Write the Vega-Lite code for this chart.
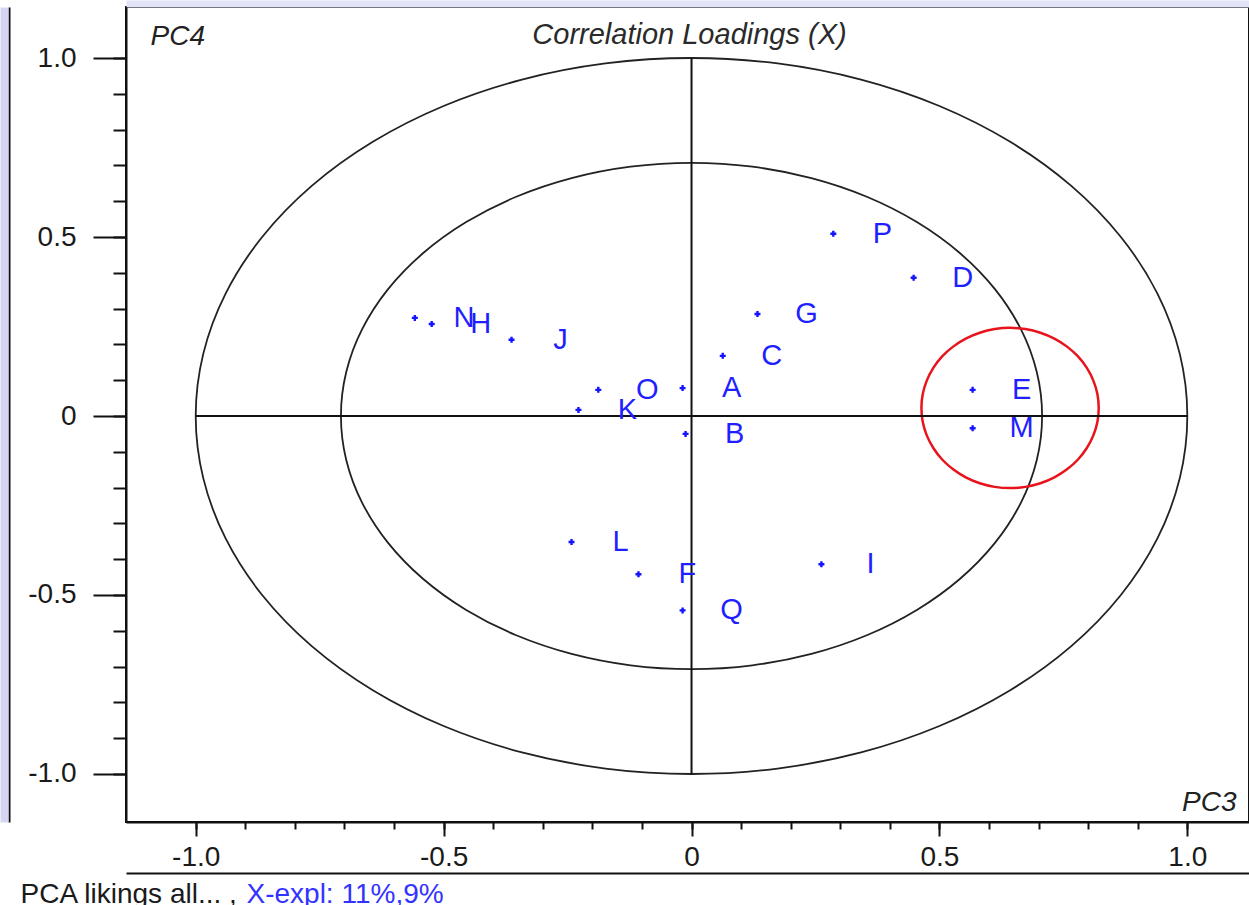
{
  "$schema": "https://vega.github.io/schema/vega-lite/v6.json",
  "width": 1123,
  "height": 815,
  "autosize": {"type": "none"},
  "padding": {"left": 126, "top": 7, "right": 0, "bottom": 83},
  "background": "white",
  "config": {
    "view": {"stroke": "#111111", "strokeWidth": 2},
    "axis": {
      "grid": false,
      "labelFont": "Liberation Sans",
      "titleFont": "Liberation Sans",
      "labelFontSize": 28,
      "labelColor": "#1a1a1a",
      "tickColor": "#111111",
      "domainColor": "#111111",
      "titleFontWeight": "normal",
      "titleColor": "#222222",
      "titleFontSize": 28
    }
  },
  "title": {
    "text": "Correlation Loadings (X)",
    "font": "Liberation Sans",
    "fontSize": 29,
    "fontStyle": "italic",
    "fontWeight": "normal",
    "color": "#2a2a2a",
    "anchor": "middle",
    "frame": "group",
    "baseline": "alphabetic",
    "offset": 0,
    "dy": 69,
    "dx": 2
  },
  "datasets": {
    "rings": [
      {"ring": "outer", "a": 0, "x": 1, "y": 0},
      {"ring": "outer", "a": 10, "x": 0.9848, "y": 0.1736},
      {"ring": "outer", "a": 20, "x": 0.9397, "y": 0.342},
      {"ring": "outer", "a": 30, "x": 0.866, "y": 0.5},
      {"ring": "outer", "a": 40, "x": 0.766, "y": 0.6428},
      {"ring": "outer", "a": 50, "x": 0.6428, "y": 0.766},
      {"ring": "outer", "a": 60, "x": 0.5, "y": 0.866},
      {"ring": "outer", "a": 70, "x": 0.342, "y": 0.9397},
      {"ring": "outer", "a": 80, "x": 0.1736, "y": 0.9848},
      {"ring": "outer", "a": 90, "x": 0, "y": 1},
      {"ring": "outer", "a": 100, "x": -0.1736, "y": 0.9848},
      {"ring": "outer", "a": 110, "x": -0.342, "y": 0.9397},
      {"ring": "outer", "a": 120, "x": -0.5, "y": 0.866},
      {"ring": "outer", "a": 130, "x": -0.6428, "y": 0.766},
      {"ring": "outer", "a": 140, "x": -0.766, "y": 0.6428},
      {"ring": "outer", "a": 150, "x": -0.866, "y": 0.5},
      {"ring": "outer", "a": 160, "x": -0.9397, "y": 0.342},
      {"ring": "outer", "a": 170, "x": -0.9848, "y": 0.1736},
      {"ring": "outer", "a": 180, "x": -1, "y": 0},
      {"ring": "outer", "a": 190, "x": -0.9848, "y": -0.1736},
      {"ring": "outer", "a": 200, "x": -0.9397, "y": -0.342},
      {"ring": "outer", "a": 210, "x": -0.866, "y": -0.5},
      {"ring": "outer", "a": 220, "x": -0.766, "y": -0.6428},
      {"ring": "outer", "a": 230, "x": -0.6428, "y": -0.766},
      {"ring": "outer", "a": 240, "x": -0.5, "y": -0.866},
      {"ring": "outer", "a": 250, "x": -0.342, "y": -0.9397},
      {"ring": "outer", "a": 260, "x": -0.1736, "y": -0.9848},
      {"ring": "outer", "a": 270, "x": 0, "y": -1},
      {"ring": "outer", "a": 280, "x": 0.1736, "y": -0.9848},
      {"ring": "outer", "a": 290, "x": 0.342, "y": -0.9397},
      {"ring": "outer", "a": 300, "x": 0.5, "y": -0.866},
      {"ring": "outer", "a": 310, "x": 0.6428, "y": -0.766},
      {"ring": "outer", "a": 320, "x": 0.766, "y": -0.6428},
      {"ring": "outer", "a": 330, "x": 0.866, "y": -0.5},
      {"ring": "outer", "a": 340, "x": 0.9397, "y": -0.342},
      {"ring": "outer", "a": 350, "x": 0.9848, "y": -0.1736},
      {"ring": "inner", "a": 0, "x": 0.7071, "y": 0},
      {"ring": "inner", "a": 10, "x": 0.6964, "y": 0.1228},
      {"ring": "inner", "a": 20, "x": 0.6645, "y": 0.2418},
      {"ring": "inner", "a": 30, "x": 0.6124, "y": 0.3536},
      {"ring": "inner", "a": 40, "x": 0.5417, "y": 0.4545},
      {"ring": "inner", "a": 50, "x": 0.4545, "y": 0.5417},
      {"ring": "inner", "a": 60, "x": 0.3536, "y": 0.6124},
      {"ring": "inner", "a": 70, "x": 0.2418, "y": 0.6645},
      {"ring": "inner", "a": 80, "x": 0.1228, "y": 0.6964},
      {"ring": "inner", "a": 90, "x": 0, "y": 0.7071},
      {"ring": "inner", "a": 100, "x": -0.1228, "y": 0.6964},
      {"ring": "inner", "a": 110, "x": -0.2418, "y": 0.6645},
      {"ring": "inner", "a": 120, "x": -0.3536, "y": 0.6124},
      {"ring": "inner", "a": 130, "x": -0.4545, "y": 0.5417},
      {"ring": "inner", "a": 140, "x": -0.5417, "y": 0.4545},
      {"ring": "inner", "a": 150, "x": -0.6124, "y": 0.3536},
      {"ring": "inner", "a": 160, "x": -0.6645, "y": 0.2418},
      {"ring": "inner", "a": 170, "x": -0.6964, "y": 0.1228},
      {"ring": "inner", "a": 180, "x": -0.7071, "y": 0},
      {"ring": "inner", "a": 190, "x": -0.6964, "y": -0.1228},
      {"ring": "inner", "a": 200, "x": -0.6645, "y": -0.2418},
      {"ring": "inner", "a": 210, "x": -0.6124, "y": -0.3536},
      {"ring": "inner", "a": 220, "x": -0.5417, "y": -0.4545},
      {"ring": "inner", "a": 230, "x": -0.4545, "y": -0.5417},
      {"ring": "inner", "a": 240, "x": -0.3536, "y": -0.6124},
      {"ring": "inner", "a": 250, "x": -0.2418, "y": -0.6645},
      {"ring": "inner", "a": 260, "x": -0.1228, "y": -0.6964},
      {"ring": "inner", "a": 270, "x": 0, "y": -0.7071},
      {"ring": "inner", "a": 280, "x": 0.1228, "y": -0.6964},
      {"ring": "inner", "a": 290, "x": 0.2418, "y": -0.6645},
      {"ring": "inner", "a": 300, "x": 0.3536, "y": -0.6124},
      {"ring": "inner", "a": 310, "x": 0.4545, "y": -0.5417},
      {"ring": "inner", "a": 320, "x": 0.5417, "y": -0.4545},
      {"ring": "inner", "a": 330, "x": 0.6124, "y": -0.3536},
      {"ring": "inner", "a": 340, "x": 0.6645, "y": -0.2418},
      {"ring": "inner", "a": 350, "x": 0.6964, "y": -0.1228}
    ],
    "highlight": [
      {"a": 0, "x": 0.8213, "y": 0.0224},
      {"a": 10, "x": 0.8186, "y": 0.0613},
      {"a": 20, "x": 0.8105, "y": 0.0989},
      {"a": 30, "x": 0.7973, "y": 0.1343},
      {"a": 40, "x": 0.7795, "y": 0.1663},
      {"a": 50, "x": 0.7574, "y": 0.1938},
      {"a": 60, "x": 0.7319, "y": 0.2162},
      {"a": 70, "x": 0.7036, "y": 0.2327},
      {"a": 80, "x": 0.6735, "y": 0.2428},
      {"a": 90, "x": 0.6425, "y": 0.2462},
      {"a": 100, "x": 0.6115, "y": 0.2428},
      {"a": 110, "x": 0.5814, "y": 0.2327},
      {"a": 120, "x": 0.5531, "y": 0.2162},
      {"a": 130, "x": 0.5276, "y": 0.1938},
      {"a": 140, "x": 0.5055, "y": 0.1663},
      {"a": 150, "x": 0.4877, "y": 0.1343},
      {"a": 160, "x": 0.4745, "y": 0.0989},
      {"a": 170, "x": 0.4664, "y": 0.0613},
      {"a": 180, "x": 0.4637, "y": 0.0224},
      {"a": 190, "x": 0.4664, "y": -0.0165},
      {"a": 200, "x": 0.4745, "y": -0.0541},
      {"a": 210, "x": 0.4877, "y": -0.0895},
      {"a": 220, "x": 0.5055, "y": -0.1215},
      {"a": 230, "x": 0.5276, "y": -0.149},
      {"a": 240, "x": 0.5531, "y": -0.1714},
      {"a": 250, "x": 0.5814, "y": -0.1879},
      {"a": 260, "x": 0.6115, "y": -0.198},
      {"a": 270, "x": 0.6425, "y": -0.2014},
      {"a": 280, "x": 0.6735, "y": -0.198},
      {"a": 290, "x": 0.7036, "y": -0.1879},
      {"a": 300, "x": 0.7319, "y": -0.1714},
      {"a": 310, "x": 0.7574, "y": -0.149},
      {"a": 320, "x": 0.7795, "y": -0.1215},
      {"a": 330, "x": 0.7973, "y": -0.0895},
      {"a": 340, "x": 0.8105, "y": -0.0541},
      {"a": 350, "x": 0.8186, "y": -0.0165}
    ],
    "cross": [
      {"x": -1, "x2": 1, "y": 0, "y2": 0},
      {"x": 0, "x2": 0, "y": -1, "y2": 1}
    ],
    "loadings": [
      {"var": "N", "pc3": -0.558, "pc4": 0.274},
      {"var": "H", "pc3": -0.524, "pc4": 0.257},
      {"var": "J", "pc3": -0.363, "pc4": 0.213},
      {"var": "O", "pc3": -0.188, "pc4": 0.073},
      {"var": "K", "pc3": -0.228, "pc4": 0.017},
      {"var": "A", "pc3": -0.018, "pc4": 0.078},
      {"var": "B", "pc3": -0.012, "pc4": -0.05},
      {"var": "C", "pc3": 0.063, "pc4": 0.168},
      {"var": "G", "pc3": 0.133, "pc4": 0.285},
      {"var": "P", "pc3": 0.286, "pc4": 0.509},
      {"var": "D", "pc3": 0.448, "pc4": 0.386},
      {"var": "E", "pc3": 0.567, "pc4": 0.073},
      {"var": "M", "pc3": 0.567, "pc4": -0.034},
      {"var": "L", "pc3": -0.242, "pc4": -0.352},
      {"var": "F", "pc3": -0.107, "pc4": -0.442},
      {"var": "Q", "pc3": -0.018, "pc4": -0.543},
      {"var": "I", "pc3": 0.262, "pc4": -0.414}
    ]
  },
  "layer": [
    {
      "data": {"name": "rings"},
      "mark": {"type": "line", "interpolate": "cardinal-closed", "color": "#222222", "strokeWidth": 1.8},
      "encoding": {
        "x": {
          "field": "x", "type": "quantitative",
          "scale": {"domain": [-1.1406, 1.1244], "nice": false, "zero": false},
          "axis": {
            "orient": "bottom",
            "values": [-1, -0.5, 0, 0.5, 1],
            "tickSize": 14, "tickWidth": 2,
            "labelPadding": 7, "labelFlush": false, "labelOverlap": false,
            "labelExpr": "datum.value == 0 ? '0' : (datum.value < 0 ? '-' + format(-datum.value, '.1f') : format(datum.value, '.1f'))",
            "domain": true, "domainWidth": 2,
            "title": "PC3", "titleX": 1110, "titleY": -12, "titleAlign": "right",
            "titleBaseline": "alphabetic", "titleFontStyle": "italic", "titleAngle": 0
          }
        },
        "y": {
          "field": "y", "type": "quantitative",
          "scale": {"domain": [-1.1341, 1.1425], "nice": false, "zero": false},
          "axis": {
            "orient": "left",
            "values": [-1, -0.5, 0, 0.5, 1],
            "tickSize": 33, "tickWidth": 2,
            "labelPadding": 17, "labelFlush": false, "labelOverlap": false,
            "labelAlign": "right", "labelBaseline": "middle",
            "labelExpr": "datum.value == 0 ? '0' : (datum.value < 0 ? '-' + format(-datum.value, '.1f') : format(datum.value, '.1f'))",
            "domain": true, "domainWidth": 2,
            "title": "PC4", "titleX": 24, "titleY": 37, "titleAngle": 0, "titleAlign": "left",
            "titleBaseline": "alphabetic", "titleFontStyle": "italic"
          }
        },
        "detail": {"field": "ring"},
        "order": {"field": "a", "type": "quantitative"}
      }
    },
    {
      "data": {"name": "highlight"},
      "mark": {"type": "line", "interpolate": "cardinal-closed", "color": "#e8141c", "strokeWidth": 2.5},
      "encoding": {
        "x": {
          "field": "x", "type": "quantitative",
          "scale": {"domain": [-1.1406, 1.1244], "nice": false, "zero": false},
          "axis": {
            "orient": "bottom",
            "values": [-1, -0.9, -0.8, -0.7, -0.6, -0.5, -0.4, -0.3, -0.2, -0.1, 0, 0.1, 0.2, 0.3, 0.4, 0.5, 0.6, 0.7, 0.8, 0.9, 1],
            "tickSize": 7, "tickWidth": 2, "labels": false, "domain": false,
            "title": "PCA likings all... ,", "titleX": -106, "titleY": 80, "titleAlign": "left",
            "titleBaseline": "alphabetic", "titleColor": "#1a1a1a", "titleAngle": 0
          }
        },
        "y": {
          "field": "y", "type": "quantitative",
          "scale": {"domain": [-1.1341, 1.1425], "nice": false, "zero": false},
          "axis": {
            "orient": "left",
            "values": [-1, -0.9, -0.8, -0.7, -0.6, -0.5, -0.4, -0.3, -0.2, -0.1, 0, 0.1, 0.2, 0.3, 0.4, 0.5, 0.6, 0.7, 0.8, 0.9, 1],
            "tickSize": 13, "tickWidth": 2, "labels": false, "domain": false,
            "title": "X-expl: 11%,9%", "titleX": 120, "titleY": 895, "titleAngle": 0, "titleAlign": "left",
            "titleBaseline": "alphabetic", "titleColor": "#3333ff"
          }
        },
        "order": {"field": "a", "type": "quantitative"}
      }
    },
    {
      "data": {"name": "cross"},
      "mark": {"type": "rule", "color": "#111111", "strokeWidth": 2},
      "encoding": {
        "x": {
          "field": "x", "type": "quantitative",
          "scale": {"domain": [-1.1406, 1.1244], "nice": false, "zero": false},
          "axis": {"orient": "bottom", "offset": 51, "ticks": false, "labels": false, "domain": true, "domainWidth": 2, "title": null}
        },
        "x2": {"field": "x2"},
        "y": {
          "field": "y", "type": "quantitative",
          "scale": {"domain": [-1.1341, 1.1425], "nice": false, "zero": false},
          "axis": {"orient": "left", "offset": 117, "ticks": false, "labels": false, "domain": true, "domainWidth": 2, "title": null}
        },
        "y2": {"field": "y2"}
      }
    },
    {
      "data": {"name": "loadings"},
      "mark": {"type": "point", "shape": "cross", "filled": true, "size": 36, "color": "#1414ff", "opacity": 1},
      "encoding": {
        "x": {
          "field": "pc3", "type": "quantitative",
          "scale": {"domain": [-1.1406, 1.1244], "nice": false, "zero": false},
          "axis": {"orient": "top", "offset": 3.5, "ticks": false, "labels": false, "domain": true, "domainWidth": 7, "domainColor": "#e2e2f8", "title": null}
        },
        "y": {
          "field": "pc4", "type": "quantitative",
          "scale": {"domain": [-1.1341, 1.1425], "nice": false, "zero": false},
          "axis": {"orient": "left", "offset": 122, "ticks": false, "labels": false, "domain": true, "domainWidth": 8, "domainColor": "#d6d6f4", "title": null}
        }
      }
    },
    {
      "data": {"name": "loadings"},
      "mark": {"type": "text", "dx": 49, "align": "center", "baseline": "middle", "font": "Liberation Sans", "fontSize": 29, "color": "#1f1fff"},
      "encoding": {
        "x": {"field": "pc3", "type": "quantitative", "scale": {"domain": [-1.1406, 1.1244], "nice": false, "zero": false}, "axis": null},
        "y": {"field": "pc4", "type": "quantitative", "scale": {"domain": [-1.1341, 1.1425], "nice": false, "zero": false}, "axis": null},
        "text": {"field": "var"}
      }
    }
  ],
  "resolve": {"axis": {"x": "independent", "y": "independent"}}
}
